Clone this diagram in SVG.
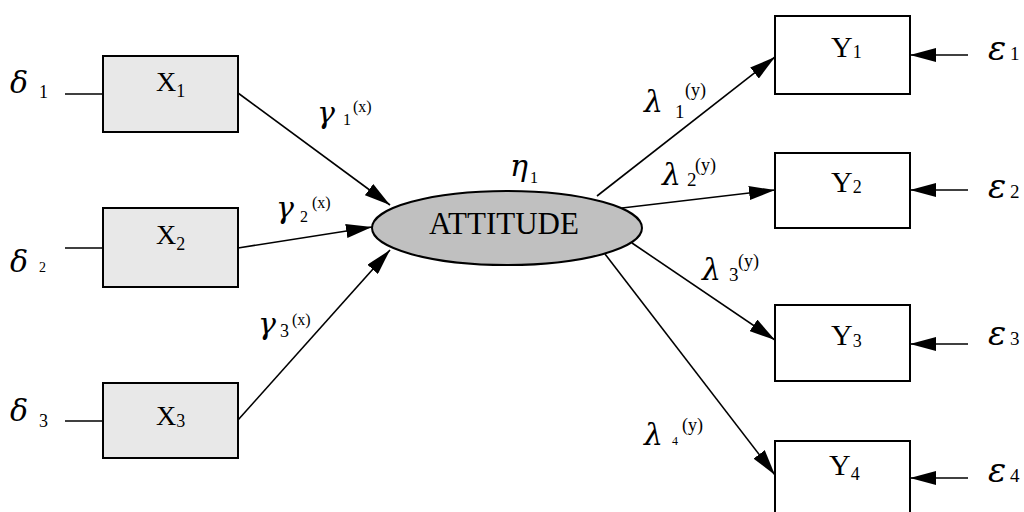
<svg xmlns="http://www.w3.org/2000/svg" width="1024" height="512" viewBox="0 0 1024 512">
<style>
.box{stroke:#000;stroke-width:2}
.xb{fill:#e8e8e8}
.yb{fill:#fff}
.t{font-family:"Liberation Serif","Times New Roman",serif;fill:#000}
.g{font-family:"DejaVu Serif","Liberation Serif",serif;font-style:italic;font-size:30px}
.e{font-family:"DejaVu Serif","Liberation Serif",serif;font-style:italic;font-size:34px}
.c{stroke:#000;stroke-width:1.6;fill:none}
.a{marker-end:url(#ah)}
</style>
<defs>
<marker id="ah" markerUnits="userSpaceOnUse" markerWidth="26" markerHeight="14" refX="26" refY="7" orient="auto"><path d="M0,0 L26,7 L0,14 z" fill="#000"/></marker>
</defs>
<rect width="1024" height="512" fill="#fff"/>
<g id="connectors">
<path class="c" d="M65,94 L103,94"/>
<path class="c" d="M65,248 L103,248"/>
<path class="c" d="M65,421 L103,421"/>
<path class="c a" d="M238,93 L390,205"/>
<path class="c a" d="M238,248 L372,227"/>
<path class="c a" d="M238,420 L390,250"/>
<path class="c a" d="M597,196 L775,57"/>
<path class="c a" d="M622,208 L775,190"/>
<path class="c a" d="M632,243 L775,340"/>
<path class="c a" d="M605,254 L775,475"/>
<path class="c a" d="M968,55 L910,55"/>
<path class="c a" d="M968,190 L910,190"/>
<path class="c a" d="M968,344 L910,344"/>
<path class="c a" d="M968,478 L910,478"/>
</g>
<g id="X1"><rect class="box xb" x="103" y="56" width="135" height="76"/><text class="t" x="156" y="91" font-size="28">X<tspan font-size="18" y="97">1</tspan></text></g>
<g id="X2"><rect class="box xb" x="103" y="208" width="135" height="79"/><text class="t" x="156" y="244" font-size="28">X<tspan font-size="18" y="250">2</tspan></text></g>
<g id="X3"><rect class="box xb" x="103" y="383" width="135" height="75"/><text class="t" x="156" y="425" font-size="28">X<tspan font-size="18" y="427">3</tspan></text></g>
<g id="attitude"><ellipse cx="507" cy="228" rx="135" ry="37" fill="#c0c0c0" stroke="#000" stroke-width="2"/><text class="t" x="504" y="234" font-size="31" text-anchor="middle">ATTITUDE</text></g>
<g id="Y1"><rect class="box yb" x="775" y="16" width="135" height="78"/><text class="t" x="831" y="57" font-size="30">Y<tspan font-size="18" y="58">1</tspan></text></g>
<g id="Y2"><rect class="box yb" x="775" y="153" width="135" height="75"/><text class="t" x="831" y="192" font-size="30">Y<tspan font-size="18" y="193">2</tspan></text></g>
<g id="Y3"><rect class="box yb" x="775" y="305" width="135" height="76"/><text class="t" x="831" y="345" font-size="30">Y<tspan font-size="18" y="347">3</tspan></text></g>
<g id="Y4"><rect class="box yb" x="775" y="441" width="135" height="76"/><text class="t" x="829" y="475" font-size="30">Y<tspan font-size="18" y="480">4</tspan></text></g>
<g id="labels">
<text class="g" x="10" y="93">δ</text><text class="t" x="39" y="98" font-size="18">1</text>
<text class="g" x="10" y="272">δ</text><text class="t" x="39" y="272" font-size="14">2</text>
<text class="g" x="10" y="421">δ</text><text class="t" x="39" y="427" font-size="18">3</text>
<text class="g" x="510" y="176">η</text><text class="t" x="530" y="183" font-size="16">1</text>
<text class="g" x="317" y="123">γ</text><text class="t" x="343" y="125" font-size="16">1</text><text class="t" x="353" y="112" font-size="16">(x)</text>
<text class="g" x="276" y="218">γ</text><text class="t" x="300" y="222" font-size="16">2</text><text class="t" x="312" y="208" font-size="16">(x)</text>
<text class="g" x="258" y="334">γ</text><text class="t" x="280" y="337" font-size="18">3</text><text class="t" x="292" y="325" font-size="16">(x)</text>
<text class="g" x="644" y="112">λ</text><text class="t" x="675" y="118" font-size="19">1</text><text class="t" x="685" y="96" font-size="18">(y)</text>
<text class="g" x="662" y="185">λ</text><text class="t" x="687" y="186" font-size="19">2</text><text class="t" x="695" y="171" font-size="18">(y)</text>
<text class="g" x="702" y="280">λ</text><text class="t" x="729" y="281" font-size="19">3</text><text class="t" x="738" y="267" font-size="18">(y)</text>
<text class="g" x="644" y="445">λ</text><text class="t" x="672" y="445" font-size="12">4</text><text class="t" x="682" y="431" font-size="18">(y)</text>
<text class="e" x="988" y="60">ε</text><text class="t" x="1010" y="60" font-size="19">1</text>
<text class="e" x="988" y="198">ε</text><text class="t" x="1010" y="198" font-size="19">2</text>
<text class="e" x="988" y="345">ε</text><text class="t" x="1010" y="345" font-size="19">3</text>
<text class="e" x="988" y="482">ε</text><text class="t" x="1010" y="482" font-size="19">4</text>
</g>
</svg>
